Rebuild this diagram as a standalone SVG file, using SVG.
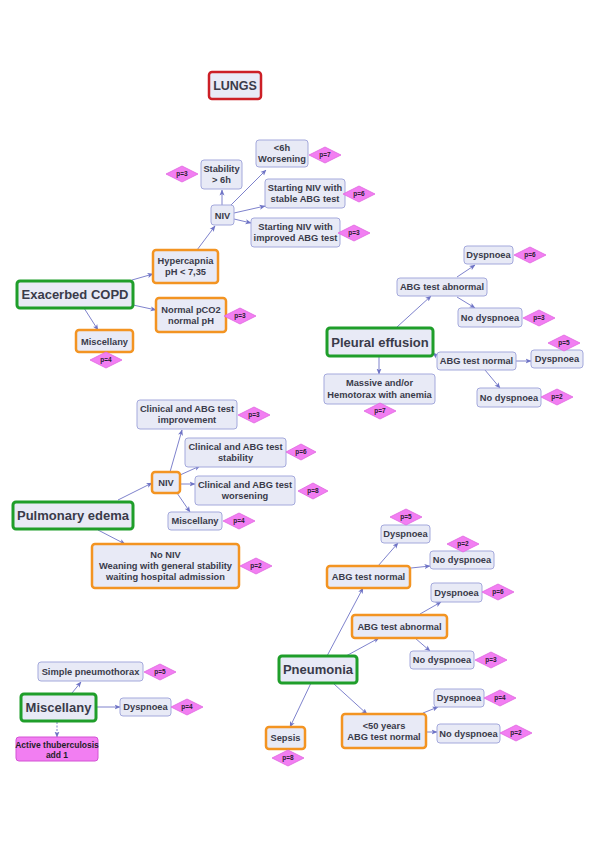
<svg xmlns="http://www.w3.org/2000/svg" width="595" height="842" viewBox="0 0 595 842">
<defs>
<marker id="ar" markerWidth="6" markerHeight="6" refX="5.5" refY="3" orient="auto" markerUnits="userSpaceOnUse">
<path d="M0,0.5 L6,3 L0,5.5 L1.5,3 z" fill="#6f74c6"/>
</marker>
</defs>
<style>
g rect{fill:#e8eaf6;stroke:#a4a9dc;stroke-width:1}
.o rect{stroke:#f39422;stroke-width:2.5}
.g rect{stroke:#1f9e2a;stroke-width:3}
.r rect{stroke:#cc1f26;stroke-width:2.5}
.m rect{fill:#f27ef2;stroke:#d452d4}
text{font-family:"Liberation Sans",Arial,sans-serif;font-weight:bold;font-size:9.3px;fill:#3a3b4a;text-anchor:middle}
.g text{font-size:13px}
.r text{font-size:12.5px}
.m text{fill:#1e1e28;font-size:8.5px}
.d polygon{fill:#f27ef2;stroke:#e066e0;stroke-width:0.8}
.d text{font-size:6.5px;fill:#2a2030}
#conn line{stroke:#6f74c6;stroke-width:0.9;marker-end:url(#ar)}
#conn .dash{stroke-dasharray:2,1.5}
</style>
<rect width="595" height="842" style="fill:#ffffff;stroke:none"/>

<g id="conn">
<line x1="132" y1="280" x2="153" y2="274"/>
<line x1="133" y1="305" x2="156" y2="310"/>
<line x1="84" y1="308" x2="98" y2="330"/>
<line x1="197" y1="250" x2="215" y2="226"/>
<line x1="222" y1="205" x2="222" y2="190"/>
<line x1="231" y1="205" x2="266" y2="170"/>
<line x1="234" y1="213" x2="265" y2="206"/>
<line x1="234" y1="219" x2="251" y2="223"/>
<line x1="397" y1="327" x2="431" y2="296"/>
<line x1="457" y1="277" x2="475" y2="265"/>
<line x1="457" y1="297" x2="475" y2="308"/>
<line x1="438" y1="357" x2="433" y2="353"/>
<line x1="516" y1="361" x2="531" y2="361"/>
<line x1="485" y1="370" x2="500" y2="388"/>
<line x1="379" y1="356" x2="379" y2="374"/>
<line x1="118" y1="500" x2="152" y2="483"/>
<line x1="98" y1="530" x2="125" y2="544"/>
<line x1="170" y1="472" x2="182" y2="430"/>
<line x1="180" y1="475" x2="200" y2="466"/>
<line x1="180" y1="484" x2="195" y2="484"/>
<line x1="177" y1="493" x2="190" y2="512"/>
<line x1="327" y1="656" x2="363" y2="588"/>
<line x1="346" y1="656" x2="379" y2="638"/>
<line x1="378" y1="566" x2="398" y2="543"/>
<line x1="411" y1="568" x2="430" y2="566"/>
<line x1="420" y1="614" x2="441" y2="602"/>
<line x1="415" y1="638" x2="430" y2="651"/>
<line x1="311" y1="683" x2="290" y2="727"/>
<line x1="334" y1="684" x2="367" y2="714"/>
<line x1="423" y1="713" x2="438" y2="707"/>
<line x1="426" y1="732" x2="437" y2="732"/>
<line x1="72" y1="693" x2="81" y2="682"/>
<line x1="96" y1="707" x2="120" y2="707"/>
<line class="dash" x1="57" y1="722" x2="57" y2="737"/>
</g>

<g id="lungs" class="r"><rect x="209" y="72" width="52" height="27" rx="3"/><text x="235" y="90">LUNGS</text></g>

<!-- COPD -->
<g id="copd" class="g"><rect x="17" y="281" width="116" height="27" rx="3"/><text x="75" y="299">Exacerbed COPD</text></g>
<g id="hyper" class="o"><rect x="153" y="250" width="65" height="33" rx="3"/><text x="185.5" y="264">Hypercapnia</text><text x="185.5" y="275">pH &lt; 7,35</text></g>
<g id="normal" class="o"><rect x="156" y="298" width="70" height="34" rx="3"/><text x="191" y="313">Normal pCO2</text><text x="191" y="324">normal pH</text></g>
<g id="copdmisc" class="o"><rect x="76" y="330" width="57" height="22" rx="3"/><text x="104.5" y="344.5">Miscellany</text></g>
<g id="niv1"><rect x="211" y="205" width="23" height="20" rx="3"/><text x="222.5" y="218.5">NIV</text></g>
<g id="stab"><rect x="201" y="160" width="41" height="29" rx="3"/><text x="221.5" y="172">Stability</text><text x="221.5" y="183">&gt; 6h</text></g>
<g id="wors"><rect x="256" y="140" width="52" height="27" rx="3"/><text x="282" y="151">&lt;6h</text><text x="282" y="162">Worsening</text></g>
<g id="snstable"><rect x="265" y="179" width="80" height="29" rx="3"/><text x="305" y="191">Starting NIV with</text><text x="305" y="202">stable ABG test</text></g>
<g id="snimpr"><rect x="251" y="218" width="89" height="29" rx="3"/><text x="295.5" y="230">Starting NIV with</text><text x="295.5" y="241">improved ABG test</text></g>
<g id="d1" class="d"><polygon points="166,174 182,166 198,174 182,182"/><text x="182" y="176.3">p=3</text></g>
<g id="d2" class="d"><polygon points="309,155 325,147 341,155 325,163"/><text x="325" y="157.3">p=7</text></g>
<g id="d3" class="d"><polygon points="343,194 359,186 375,194 359,202"/><text x="359" y="196.3">p=6</text></g>
<g id="d4" class="d"><polygon points="338,233 354,225 370,233 354,241"/><text x="354" y="235.3">p=3</text></g>
<g id="d5" class="d"><polygon points="224,316 240,308 256,316 240,324"/><text x="240" y="318.3">p=3</text></g>
<g id="d6" class="d"><polygon points="90,360 106,352 122,360 106,368"/><text x="106" y="362.3">p=4</text></g>

<!-- Pleural effusion -->
<g id="pleural" class="g"><rect x="327" y="328" width="106" height="28" rx="3"/><text x="380" y="346.5">Pleural effusion</text></g>
<g id="abgab"><rect x="397" y="278" width="90" height="18" rx="3"/><text x="442" y="290.3">ABG test abnormal</text></g>
<g id="dysp1"><rect x="464" y="246" width="49" height="18" rx="3"/><text x="488.5" y="258.3">Dyspnoea</text></g>
<g id="nodysp1"><rect x="458" y="308" width="64" height="19" rx="3"/><text x="490" y="320.8">No dyspnoea</text></g>
<g id="abgnorm"><rect x="437" y="352" width="79" height="18" rx="3"/><text x="476.5" y="364.3">ABG test normal</text></g>
<g id="dysp2"><rect x="531" y="350" width="52" height="18" rx="3"/><text x="557" y="362.3">Dyspnoea</text></g>
<g id="nodysp2"><rect x="477" y="388" width="64" height="19" rx="3"/><text x="509" y="400.8">No dyspnoea</text></g>
<g id="massive"><rect x="324" y="374" width="111" height="30" rx="3"/><text x="379.5" y="386">Massive and/or</text><text x="379.5" y="397.5">Hemotorax with anemia</text></g>
<g id="d7" class="d"><polygon points="514,255 530,247 546,255 530,263"/><text x="530" y="257.3">p=6</text></g>
<g id="d8" class="d"><polygon points="523,318 539,310 555,318 539,326"/><text x="539" y="320.3">p=3</text></g>
<g id="d9" class="d"><polygon points="548,343 564,335 580,343 564,351"/><text x="564" y="345.3">p=5</text></g>
<g id="d10" class="d"><polygon points="541,397 557,389 573,397 557,405"/><text x="557" y="399.3">p=2</text></g>
<g id="d11" class="d"><polygon points="364,411 380,403 396,411 380,419"/><text x="380" y="413.3">p=7</text></g>

<!-- Pulmonary edema -->
<g id="edema" class="g"><rect x="13" y="502" width="120" height="27" rx="3"/><text x="73" y="520">Pulmonary edema</text></g>
<g id="niv2" class="o"><rect x="152" y="472" width="28" height="21" rx="3"/><text x="166" y="485.8">NIV</text></g>
<g id="impr"><rect x="137" y="400" width="100" height="29" rx="3"/><text x="187" y="412">Clinical and ABG test</text><text x="187" y="423">improvement</text></g>
<g id="stab2"><rect x="185" y="438" width="101" height="29" rx="3"/><text x="235.5" y="450">Clinical and ABG test</text><text x="235.5" y="461">stability</text></g>
<g id="wors2"><rect x="195" y="476" width="100" height="29" rx="3"/><text x="245" y="488">Clinical and ABG test</text><text x="245" y="499">worsening</text></g>
<g id="emisc"><rect x="168" y="512" width="54" height="18" rx="3"/><text x="195" y="524.3">Miscellany</text></g>
<g id="nonv" class="o"><rect x="92" y="544" width="147" height="44" rx="3"/><text x="165.5" y="558">No NIV</text><text x="165.5" y="569">Weaning with general stability</text><text x="165.5" y="580">waiting hospital admission</text></g>
<g id="d12" class="d"><polygon points="238,415 254,407 270,415 254,423"/><text x="254" y="417.3">p=3</text></g>
<g id="d13" class="d"><polygon points="286,452 301,444 316,452 301,460"/><text x="301" y="454.3">p=6</text></g>
<g id="d14" class="d"><polygon points="298,491 313,483 328,491 313,499"/><text x="313" y="493.3">p=8</text></g>
<g id="d15" class="d"><polygon points="223,521 239,513 255,521 239,529"/><text x="239" y="523.3">p=4</text></g>
<g id="d16" class="d"><polygon points="240,566 256,558 272,566 256,574"/><text x="256" y="568.3">p=2</text></g>

<!-- Pneumonia -->
<g id="pneumonia" class="g"><rect x="279" y="656" width="78" height="27" rx="3"/><text x="318" y="674">Pneumonia</text></g>
<g id="pabgn" class="o"><rect x="327" y="566" width="83" height="22" rx="3"/><text x="368.5" y="580.3">ABG test normal</text></g>
<g id="pd1"><rect x="381" y="525" width="49" height="18" rx="3"/><text x="405.5" y="537.3">Dyspnoea</text></g>
<g id="pnd1"><rect x="430" y="551" width="64" height="18" rx="3"/><text x="462" y="563.3">No dyspnoea</text></g>
<g id="pabga" class="o"><rect x="352" y="615" width="95" height="23" rx="3"/><text x="399.5" y="629.8">ABG test abnormal</text></g>
<g id="pd2"><rect x="431" y="583" width="51" height="19" rx="3"/><text x="456.5" y="595.8">Dyspnoea</text></g>
<g id="pnd2"><rect x="410" y="651" width="64" height="18" rx="3"/><text x="442" y="663.3">No dyspnoea</text></g>
<g id="p50" class="o"><rect x="342" y="714" width="84" height="34" rx="3"/><text x="384" y="729">&lt;50 years</text><text x="384" y="740">ABG test normal</text></g>
<g id="pd3"><rect x="434" y="689" width="50" height="18" rx="3"/><text x="459" y="701.3">Dyspnoea</text></g>
<g id="pnd3"><rect x="437" y="724" width="63" height="19" rx="3"/><text x="468.5" y="736.8">No dyspnoea</text></g>
<g id="sepsis" class="o"><rect x="266" y="727" width="39" height="22" rx="3"/><text x="285.5" y="741.3">Sepsis</text></g>
<g id="d17" class="d"><polygon points="390,517 406,509 422,517 406,525"/><text x="406" y="519.3">p=5</text></g>
<g id="d18" class="d"><polygon points="447,544 463,536 479,544 463,552"/><text x="463" y="546.3">p=2</text></g>
<g id="d19" class="d"><polygon points="482,592 498,584 514,592 498,600"/><text x="498" y="594.3">p=6</text></g>
<g id="d20" class="d"><polygon points="475,660 491,652 507,660 491,668"/><text x="491" y="662.3">p=3</text></g>
<g id="d21" class="d"><polygon points="484,698 500,690 516,698 500,706"/><text x="500" y="700.3">p=4</text></g>
<g id="d22" class="d"><polygon points="500,733 516,725 532,733 516,741"/><text x="516" y="735.3">p=2</text></g>
<g id="d23" class="d"><polygon points="272,758 288,750 304,758 288,766"/><text x="288" y="760.3">p=8</text></g>

<!-- Miscellany -->
<g id="misc" class="g"><rect x="21" y="694" width="75" height="27" rx="3"/><text x="58.5" y="712">Miscellany</text></g>
<g id="simple"><rect x="38" y="662" width="105" height="19" rx="3"/><text x="90.5" y="674.8">Simple pneumothorax</text></g>
<g id="mdysp"><rect x="120" y="698" width="51" height="18" rx="3"/><text x="145.5" y="710.3">Dyspnoea</text></g>
<g id="active" class="m"><rect x="16" y="737" width="82" height="24" rx="3"/><text x="57" y="747.5">Active thuberculosis</text><text x="57" y="757.5">add 1</text></g>
<g id="d24" class="d"><polygon points="144,672 160,664 176,672 160,680"/><text x="160" y="674.3">p=5</text></g>
<g id="d25" class="d"><polygon points="171,707 187,699 203,707 187,715"/><text x="187" y="709.3">p=4</text></g>
</svg>
